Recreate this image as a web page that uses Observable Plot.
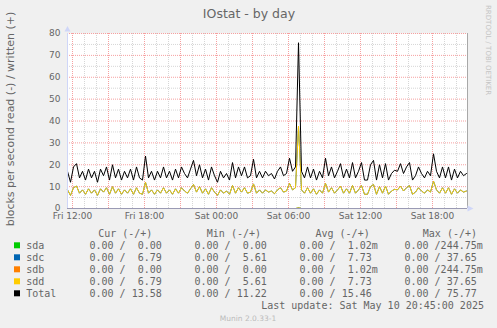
<!DOCTYPE html>
<html><head><meta charset="utf-8">
<script src="https://cdn.jsdelivr.net/npm/d3@7"></script>
<script src="https://cdn.jsdelivr.net/npm/@observablehq/plot@0.6"></script>
<style>
html,body{margin:0;padding:0;background:#f0f0f0;}
#chart{width:497px;height:328px;overflow:hidden;}
</style></head><body><div id="chart"></div>
<script>
// time axis: hours since Fri 00:00 (May 9 2025); samples every 15 minutes from Fri 11:35
const startHour = 11 + 35 / 60;
const stepHours = 0.25;

// written (+) blocks per second
const total = [
  17, 12, 19, 20.5, 14, 17, 13, 18, 14, 17,
  12, 18, 15, 19, 13, 20, 14, 18, 13, 17,
  14, 18, 13, 19, 14, 13, 24, 14, 17, 13,
  17, 14, 19, 14, 17, 13, 18, 14, 19, 16,
  14, 18, 22, 15, 20, 14, 18, 13, 19, 15,
  12, 17, 14, 16, 13, 21, 14, 19, 15, 19,
  14, 15, 22.5, 14, 17, 14, 17, 15, 16, 13.5,
  17, 19, 15, 16, 23, 17, 19, 75.77, 17, 14,
  19, 14, 18, 13, 17, 14, 23, 15, 19, 14,
  17, 20.5, 14, 18, 14, 21, 14, 17, 21, 13,
  13, 20, 22, 13, 20, 14, 20.5, 13, 16, 17.5,
  17, 20.5, 16, 19, 21, 13, 15, 19, 16, 14,
  17, 15, 25, 17, 14, 19, 14, 19, 13, 18,
  14, 17, 15, 16
];
const sdd = [
  8.5, 6, 9.5, 10.25, 7, 8.5, 6.5, 9, 7, 8.5,
  6, 9, 7.5, 9.5, 6.5, 10, 7, 9, 6.5, 8.5,
  7, 9, 6.5, 9.5, 7, 6.5, 12, 7, 8.5, 6.5,
  8.5, 7, 9.5, 7, 8.5, 6.5, 9, 7, 9.5, 8,
  7, 9, 11, 7.5, 10, 7, 9, 6.5, 9.5, 7.5,
  6, 8.5, 7, 8, 6.5, 10.5, 7, 9.5, 7.5, 9.5,
  7, 7.5, 11.25, 7, 8.5, 7, 8.5, 7.5, 8, 6.75,
  8.5, 9.5, 7.5, 8, 11.5, 8.5, 9.5, 37.65, 8.5, 7,
  9.5, 7, 9, 6.5, 8.5, 7, 11.5, 7.5, 9.5, 7,
  8.5, 10.25, 7, 9, 7, 10.5, 7, 8.5, 10.5, 6.5,
  6.5, 10, 11, 6.5, 10, 7, 10.25, 6.5, 8, 8.75,
  8.5, 10.25, 8, 9.5, 10.5, 6.5, 7.5, 9.5, 8, 7,
  8.5, 7.5, 12.5, 8.5, 7, 9.5, 7, 9.5, 6.5, 9,
  7, 8.5, 7.5, 8
];
const sdc = [
  8.5, 6, 9.5, 10.25, 7, 8.5, 6.5, 9, 7, 8.5,
  6, 9, 7.5, 9.5, 6.5, 10, 7, 9, 6.5, 8.5,
  7, 9, 6.5, 9.5, 7, 6.5, 12, 7, 8.5, 6.5,
  8.5, 7, 9.5, 7, 8.5, 6.5, 9, 7, 9.5, 8,
  7, 9, 11, 7.5, 10, 7, 9, 6.5, 9.5, 7.5,
  6, 8.5, 7, 8, 6.5, 10.5, 7, 9.5, 7.5, 9.5,
  7, 7.5, 11.25, 7, 8.5, 7, 8.5, 7.5, 8, 6.75,
  8.5, 9.5, 7.5, 8, 11.5, 8.5, 9.5, 37.65, 8.5, 7,
  9.5, 7, 9, 6.5, 8.5, 7, 11.5, 7.5, 9.5, 7,
  8.5, 10.25, 7, 9, 7, 10.5, 7, 8.5, 10.5, 6.5,
  6.5, 10, 11, 6.5, 10, 7, 10.25, 6.5, 8, 8.75,
  8.5, 10.25, 8, 9.5, 10.5, 6.5, 7.5, 9.5, 8, 7,
  8.5, 7.5, 12.5, 8.5, 7, 9.5, 7, 9.5, 6.5, 9,
  7, 8.5, 7.5, 8
];
const sda = [
  0,0,0,0,0,0,0,0,0,0, 0,0,0,0,0,0,0,0,0,0, 0,0,0,0,0,0,0,0,0,0,
  0,0,0,0,0,0,0,0,0,0, 0,0,0,0,0,0,0,0,0,0, 0,0,0,0,0,0,0,0,0,0,
  0,0,0,0,0,0,0,0,0,0, 0,0,0,0,0,0,0,0.24475,0,0, 0,0,0,0,0,0,0,0,0,0,
  0,0,0,0,0,0,0,0,0,0, 0,0,0,0,0,0,0,0,0,0, 0,0,0,0,0,0,0,0,0,0,
  0,0,0,0,0,0,0,0,0,0, 0,0,0,0
];
const sdb = [
  0,0,0,0,0,0,0,0,0,0, 0,0,0,0,0,0,0,0,0,0, 0,0,0,0,0,0,0,0,0,0,
  0,0,0,0,0,0,0,0,0,0, 0,0,0,0,0,0,0,0,0,0, 0,0,0,0,0,0,0,0,0,0,
  0,0,0,0,0,0,0,0,0,0, 0,0,0,0,0,0,0,0.24475,0,0, 0,0,0,0,0,0,0,0,0,0,
  0,0,0,0,0,0,0,0,0,0, 0,0,0,0,0,0,0,0,0,0, 0,0,0,0,0,0,0,0,0,0,
  0,0,0,0,0,0,0,0,0,0, 0,0,0,0
];

const seriesNames = ["sda", "sdc", "sdb", "sdd", "Total"];
const seriesColors = ["#00cc00", "#0066b3", "#ff8000", "#ffcc00", "#000000"];
const curText = ["0.00 /  0.00", "0.00 /  6.79", "0.00 /  0.00", "0.00 /  6.79", "0.00 / 13.58"];
const minText = ["0.00 /  0.00", "0.00 /  5.61", "0.00 /  0.00", "0.00 /  5.61", "0.00 / 11.22"];
const avgText = ["0.00 /  1.02m", "0.00 /  7.73", "0.00 /  1.02m", "0.00 /  7.73", "0.00 / 15.46"];
const maxText = ["0.00 /244.75m", "0.00 / 37.65", "0.00 /244.75m", "0.00 / 37.65", "0.00 / 75.77"];
const headers = ["Cur (-/+)", "Min (-/+)", "Avg (-/+)", "Max (-/+)"];

const yTicks = [0, 10, 20, 30, 40, 50, 60, 70, 80];
const xTickHours = [12, 18, 24, 30, 36, 42];
const xTickLabels = ["Fri 12:00", "Fri 18:00", "Sat 00:00", "Sat 06:00", "Sat 12:00", "Sat 18:00"];

const titleText = "IOstat - by day";
const yLabel = "blocks per second read (-) / written (+)";
const lastUpdate = "Last update: Sat May 10 20:45:00 2025";
const versionText = "Munin 2.0.33-1";
const watermark = "RRDTOOL / TOBI OETIKER";

// ----- build table -----
const seriesValues = [sda, sdc, sdb, sdd, total];
const rows = seriesNames.flatMap((name, k) =>
  seriesValues[k].map((v, i) => ({name, t: startHour + i * stepHours, v})));

const xDomain = [11 + 35 / 60, 11 + 35 / 60 + 400 / 12];
const yMinor = d3.range(5, 80, 10);
const yMajor = d3.range(10, 81, 10);
const xMinor = d3.range(12, 45, 1);
const xMajor = d3.range(12, 45, 3);
const dotted = "1,1";

const svg = Plot.plot({
  width: 497, height: 328,
  marginLeft: 67, marginRight: 30, marginTop: 33, marginBottom: 120,
  style: {background: "#f0f0f0", fontFamily: "DejaVu Sans", fontSize: "9px", color: "#666666", overflow: "visible"},
  x: {type: "linear", domain: xDomain},
  y: {domain: [0, 80]},
  color: {domain: seriesNames, range: seriesColors},
  marks: [
    Plot.frame({fill: "white", stroke: null}),
    Plot.ruleY(yMinor, {stroke: "#d6d6d6", strokeDasharray: dotted}),
    Plot.ruleX(xMinor, {stroke: "#d6d6d6", strokeDasharray: dotted}),
    Plot.ruleY(yMajor, {stroke: "#f6a0a0", strokeDasharray: dotted}),
    Plot.ruleX(xMajor, {stroke: "#f6a0a0", strokeDasharray: dotted}),
    Plot.ruleX([xDomain[1]], {stroke: "#a8a8a8"}),
    Plot.line(rows, {x: "t", y: "v", z: "name", stroke: "name", strokeWidth: 1, strokeLinejoin: "miter"}),
    Plot.ruleY([0], {stroke: "#9a9ab4"}),
    Plot.ruleX([xDomain[0]], {stroke: "#cfd6f8"}),
    Plot.axisY({ticks: yTicks, tickSize: 0, tickPadding: 7, label: null}),
    Plot.axisX({ticks: xTickHours, tickFormat: d => xTickLabels[xTickHours.indexOf(d)], tickSize: 0, tickPadding: 4, label: null})
  ]
});
document.getElementById("chart").appendChild(svg);

const s = d3.select(svg);
const ink = "#666666";

// arrows
s.append("polygon").attr("points", "64.5,31.5 67.5,26 70.5,31.5").attr("fill", "#cfd6f8");
s.append("polygon").attr("points", "467.5,205.5 473.5,208.5 467.5,211.5").attr("fill", "#cfd6f8");

// title
s.append("text").attr("x", 249).attr("y", 18.3).attr("text-anchor", "middle")
  .attr("font-family", "DejaVu Sans").attr("font-size", 12.5).attr("fill", ink).text(titleText);

// y label
s.append("text").attr("transform", "translate(14,119) rotate(-90)").attr("text-anchor", "middle")
  .attr("font-family", "DejaVu Sans").attr("font-size", 11).attr("fill", ink).text(yLabel);

// watermark
s.append("text").attr("transform", "translate(485.5,5) rotate(90)").attr("text-anchor", "start")
  .attr("font-family", "DejaVu Sans").attr("font-size", 7).attr("fill", "#c4c4c4").text(watermark);

// legend
const mono = s.append("g").attr("font-family", "DejaVu Sans Mono").attr("font-size", 10)
  .attr("text-anchor", "start").attr("fill", ink).style("white-space", "pre");
const headerX = [98.2, 206.8, 315.5, 422.8];
headers.forEach((h, j) => mono.append("text").attr("x", headerX[j]).attr("y", 237).text(h));
const colX = [89.5, 194.5, 299.5, 404.5];
const cols = [curText, minText, avgText, maxText];
seriesNames.forEach((name, k) => {
  const y = 249.3 + 12 * k;
  s.append("rect").attr("x", 14).attr("y", y - 7).attr("width", 6).attr("height", 6).attr("fill", seriesColors[k]);
  mono.append("text").attr("x", 26.2).attr("y", y).text(name);
  cols.forEach((c, j) => mono.append("text").attr("x", colX[j]).attr("y", y).text(c[k]));
});
mono.append("text").attr("x", 261.2).attr("y", 308.8).text(lastUpdate);

s.append("text").attr("x", 248).attr("y", 320.5).attr("text-anchor", "middle")
  .attr("font-family", "DejaVu Sans").attr("font-size", 7.5).attr("fill", "#bbbbbb").text(versionText);
</script></body></html>
